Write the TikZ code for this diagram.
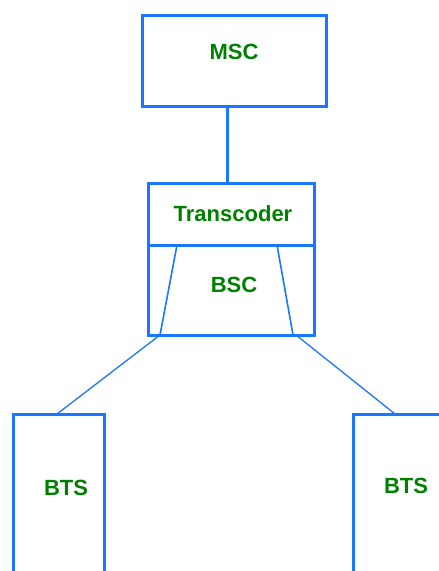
\documentclass[tikz,border=0pt]{standalone}
\usepackage{fontspec}
\setmainfont{Liberation Sans}
\usetikzlibrary{calc}
\definecolor{boxblue}{RGB}{25,120,255}
\definecolor{txtgreen}{RGB}{0,128,0}
\begin{document}
\begin{tikzpicture}[x=1pt,y=-1pt,
  box/.style={draw=boxblue, line width=3pt, rectangle, inner sep=0pt, outer sep=0pt},
  lbl/.style={text=txtgreen, font=\fontsize{22}{26}\selectfont\bfseries, inner sep=0pt},
  thin/.style={draw=boxblue, line width=1.6pt},
  wire/.style={draw=boxblue, line width=1.3pt}]
\useasboundingbox (0,0) rectangle (439,571);
\clip (0,0) rectangle (439,571);
\fill[white] (0,0) rectangle (439,571);
% boxes
\node[box, minimum width=184pt, minimum height=91pt] (msc) at (234,60.5) {};
\node[box, minimum width=166pt, minimum height=62pt] (trans) at (231,214) {};
\node[box, minimum width=166pt, minimum height=90pt] (bsc) at (231,290) {};
\node[box, minimum width=91pt, minimum height=220pt] (btsL) at (59,524) {};
\node[box, minimum width=91pt, minimum height=220pt] (btsR) at (398.5,524) {};
% labels
\node[lbl] (tmsc) at (234,52) {MSC};
\node[lbl] (ttrans) at (233,214) {Transcoder};
\node[lbl] (tbsc) at (234,285) {BSC};
\node[lbl] (tbtsL) at (66,488) {BTS};
\node[lbl] (tbtsR) at (406,486) {BTS};
% trapezoid inside BSC
\coordinate (tl) at ($(bsc.north west)+(29,0)$);
\coordinate (bl) at ($(bsc.south west)+(12,0)$);
\coordinate (tr) at ($(bsc.north east)+(-37,0)$);
\coordinate (br) at ($(bsc.south east)+(-21,0)$);
\draw[thin] (tl) -- (bl);
\draw[thin] (tr) -- (br);
% connectors
\coordinate (mscout) at ($(msc.south)+(-7,0)$);
\draw[box] (mscout) -- (mscout |- trans.north);
\coordinate (btsLin) at ($(btsL.north)+(-2,0)$);
\coordinate (btsRin) at ($(btsR.north)+(-3.5,0)$);
\draw[wire] (bl) -- (btsLin);
\draw[wire] ($(br)+(3,0)$) -- (btsRin);
\end{tikzpicture}
\end{document}
